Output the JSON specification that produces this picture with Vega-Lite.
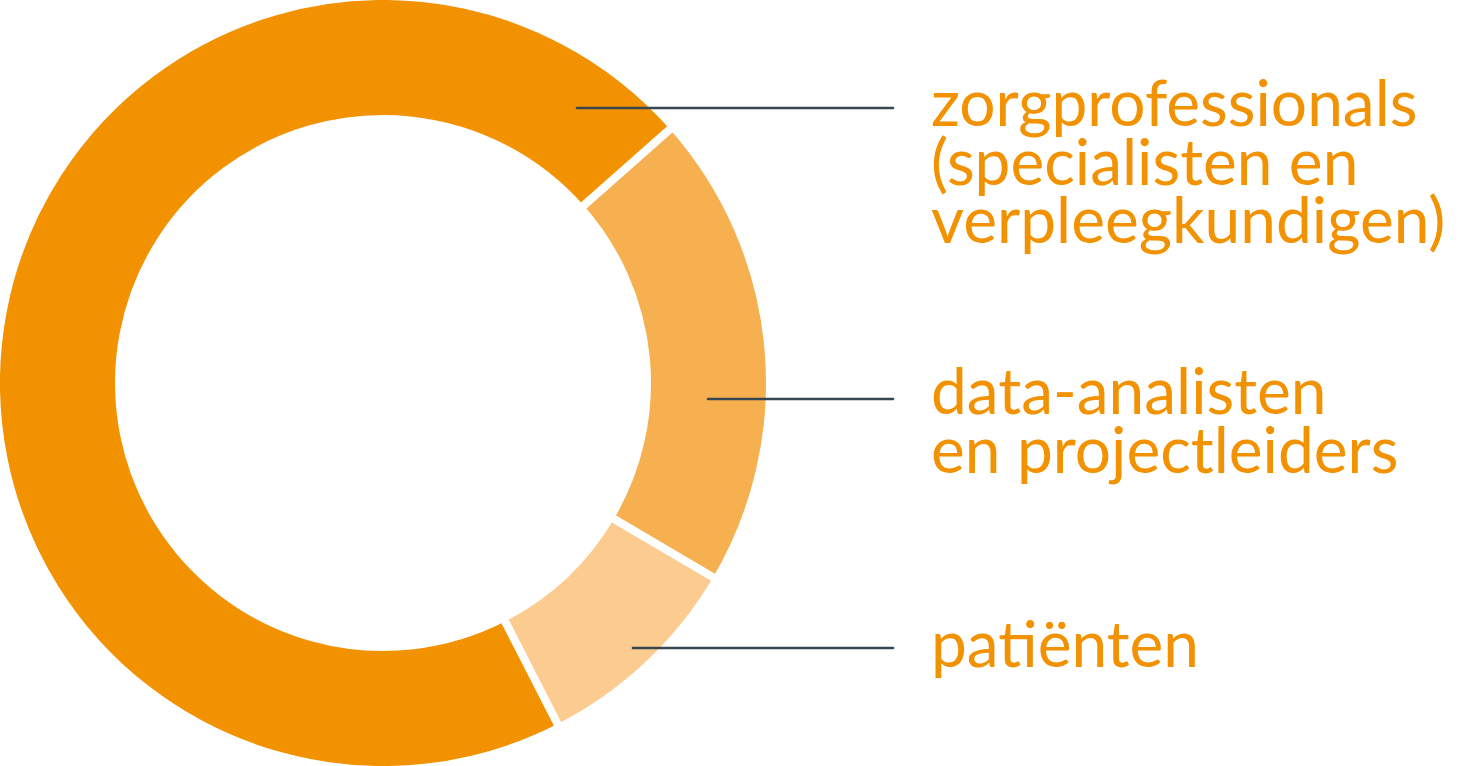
{
  "$schema": "https://vega.github.io/schema/vega-lite/v6.json",
  "width": 1459,
  "height": 766,
  "autosize": "none",
  "padding": 0,
  "background": "white",
  "config": {"view": {"stroke": null}},
  "datasets": {
    "shares": [
      {"group": "data-analisten en projectleiders", "share": 20},
      {"group": "patiënten", "share": 9},
      {"group": "zorgprofessionals (specialisten en verpleegkundigen)", "share": 71}
    ],
    "labels": [
      {"group": "zorgprofessionals (specialisten en verpleegkundigen)", "label": ["zorgprofessionals", "(specialisten en", "verpleegkundigen)"], "lineY": 108, "lineStart": 577, "lineEnd": 893, "textX": 931, "textY": 126},
      {"group": "data-analisten en projectleiders", "label": ["data-analisten", "en projectleiders"], "lineY": 399, "lineStart": 708, "lineEnd": 893, "textX": 931, "textY": 414},
      {"group": "patiënten", "label": ["patiënten"], "lineY": 648, "lineStart": 633, "lineEnd": 893, "textX": 931, "textY": 667}
    ]
  },
  "layer": [
    {
      "data": {"name": "shares"},
      "mark": {"type": "arc", "outerRadius": 387, "innerRadius": 264, "stroke": "white", "strokeWidth": 8},
      "encoding": {
        "x": {"datum": 383, "type": "quantitative", "scale": {"domain": [0, 1459], "nice": false, "zero": false}, "axis": null},
        "y": {"datum": 383, "type": "quantitative", "scale": {"domain": [0, 766], "nice": false, "zero": false, "reverse": true}, "axis": null},
        "theta": {"field": "share", "type": "quantitative", "stack": true, "scale": {"range": [0.8465, 7.1297]}},
        "color": {
          "field": "group",
          "type": "nominal",
          "scale": {
            "domain": ["data-analisten en projectleiders", "patiënten", "zorgprofessionals (specialisten en verpleegkundigen)"],
            "range": ["#F7B04F", "#FCCB8F", "#F29200"]
          },
          "legend": null
        }
      }
    },
    {
      "data": {"name": "labels"},
      "mark": {"type": "rule", "color": "#37464F", "strokeWidth": 2.6, "strokeCap": "round"},
      "encoding": {
        "x": {"field": "lineStart", "type": "quantitative", "axis": null},
        "x2": {"field": "lineEnd"},
        "y": {"field": "lineY", "type": "quantitative", "axis": null}
      }
    },
    {
      "data": {"name": "labels"},
      "mark": {"type": "text", "align": "left", "baseline": "alphabetic", "font": "Lato", "fontSize": 64, "lineHeight": 58.5, "color": "#F29200"},
      "encoding": {
        "x": {"field": "textX", "type": "quantitative", "axis": null},
        "y": {"field": "textY", "type": "quantitative", "axis": null},
        "text": {"field": "label"}
      }
    }
  ]
}
